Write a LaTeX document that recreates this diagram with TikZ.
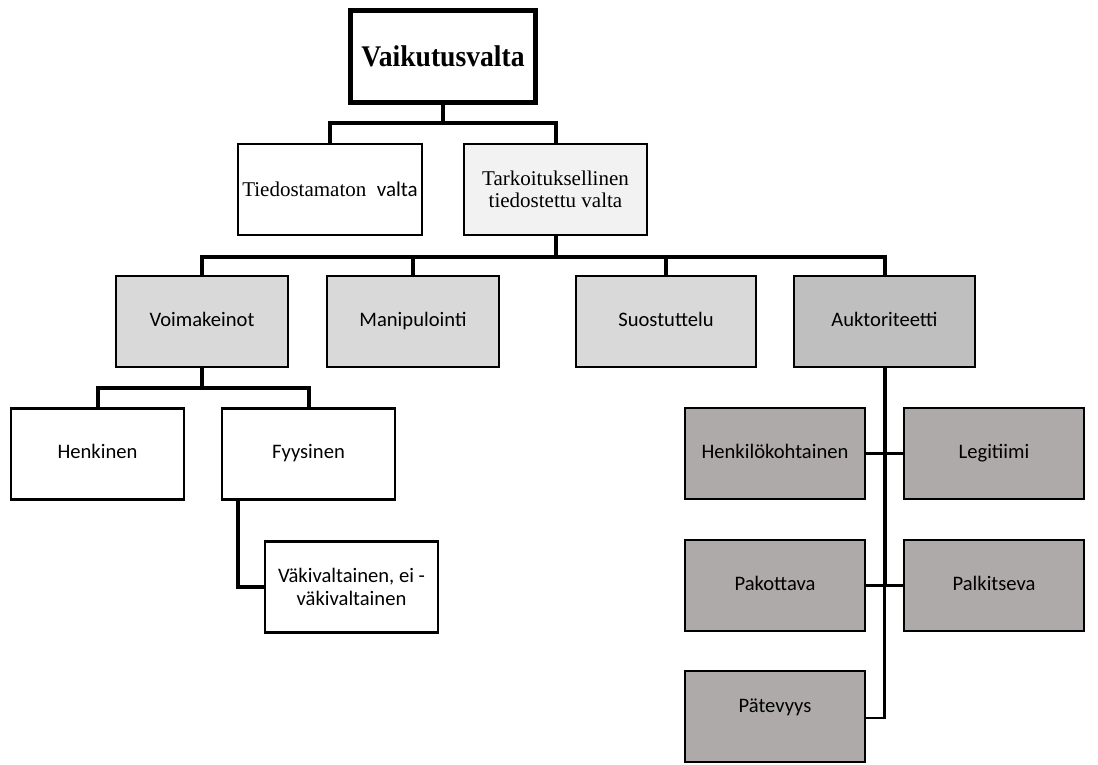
\documentclass[tikz,border=0pt]{standalone}
\usepackage{fontspec}
\setmainfont{Liberation Serif}
\newfontfamily\calfont{Carlito}
\newfontfamily\rootfont{Liberation Serif}[FakeStretch=0.92]
\usetikzlibrary{calc}
\definecolor{tone1}{HTML}{F2F2F2}
\definecolor{tone2}{HTML}{D9D9D9}
\definecolor{tone3}{HTML}{BFBFBF}
\definecolor{tone4}{HTML}{AEAAAA}
\tikzset{
  box/.style={draw=black, line width=2.6pt, rectangle, inner sep=2pt, align=center,
              minimum height=91pt, text=black},
  sansbox/.style={box, font=\calfont\fontsize{20.6}{23}\selectfont,
                  text height=14pt, text depth=5pt},
  sans2box/.style={box, font=\calfont\fontsize{20.6}{23}\selectfont},
  serifbox/.style={box, font=\fontsize{21}{21.5}\selectfont},
  conn/.style={draw=black, line width=4pt},
  thinconn/.style={draw=black, line width=2.8pt},
}
\begin{document}
\begin{tikzpicture}[x=1pt, y={(0pt,-1pt)}]
\useasboundingbox (0,0) rectangle (1098,765);

% root
\node[box, line width=5pt, minimum width=185pt, minimum height=92pt,
      font=\rootfont\bfseries\fontsize{30}{32}\selectfont] (root) at (443,56.5) {Vaikutusvalta};

% first level
\node[serifbox, fill=white, minimum width=184pt] (tied) at (330,189.5)
  {Tiedostamaton\ \ {\calfont valta}};
\node[serifbox, fill=tone1, minimum width=183pt] (tark) at (555.5,189.5)
  {Tarkoituksellinen\\tiedostettu valta};

% second level
\node[sansbox, fill=tone2, minimum width=172pt] (voim) at (202,321.5) {Voimakeinot};
\node[sansbox, fill=tone2, minimum width=172pt] (mani) at (413,321.5) {Manipulointi};
\node[sansbox, fill=tone2, minimum width=180pt] (suos) at (666,321.5) {Suostuttelu};
\node[sansbox, fill=tone3, minimum width=181pt] (aukt) at (884.5,321.5) {Auktoriteetti};

% third level, left branch
\node[sansbox, fill=white, minimum width=173pt] (henk) at (97.5,454) {Henkinen};
\node[sansbox, fill=white, minimum width=173pt] (fyys) at (308.5,454) {Fyysinen};
\node[sans2box, fill=white, minimum width=173pt] (vaki) at (351.5,587)
  {Väkivaltainen, ei -\\väkivaltainen};

% third level, right branch
\node[sansbox, fill=tone4, minimum width=180pt] (henkk) at (775,453.5) {Henkilökohtainen};
\node[sansbox, fill=tone4, minimum width=180pt] (legi) at (994,453.5) {Legitiimi};
\node[sansbox, fill=tone4, minimum width=180pt] (pako) at (775,585.5) {Pakottava};
\node[sansbox, fill=tone4, minimum width=180pt] (palk) at (994,585.5) {Palkitseva};
\node[sansbox, fill=tone4, minimum width=180pt] (pate) at (775,716.5) {\raisebox{9pt}{Pätevyys}};

% root to first level
\coordinate (bus1) at ($(root.south)+(0,18)$);
\draw[conn] (root.south) -- (bus1) -| (tied.north);
\draw[conn] (bus1) -| (tark.north);

% first level to second level
\coordinate (bus2) at ($(tark.south)+(0,21)$);
\draw[conn] (tark.south) -- (bus2) -| (voim.north);
\draw[conn] (bus2) -| (aukt.north);
\draw[conn] (bus2 -| mani.north) -- (mani.north);
\draw[conn] (bus2 -| suos.north) -- (suos.north);

% Voimakeinot branch
\coordinate (bus3) at ($(voim.south)+(0,20)$);
\draw[conn] (voim.south) -- (bus3) -| (henk.north);
\draw[conn] (bus3) -| (fyys.north);
\coordinate (fyysdrop) at ($(fyys.south west)+(17,0)$);
\draw[conn] (fyysdrop) |- (vaki.west);

% Auktoriteetti branch
\coordinate (spine) at (aukt.south |- palk.west);
\draw[thinconn] (henkk.east) -- (legi.west);
\draw[thinconn] (pako.east) -- (palk.west);
\draw[conn] (aukt.south) -- (spine);
\draw[thinconn] (spine) |- ($(pate.east)+(0,1.5)$);
\end{tikzpicture}
\end{document}
